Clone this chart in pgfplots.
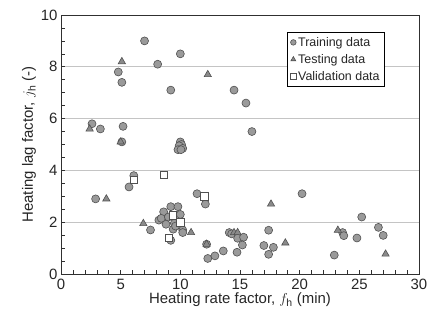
\documentclass[border=0pt]{standalone}
\usepackage{fontspec}
\setmainfont{Liberation Sans}
\usepackage{pgfplots}
\pgfplotsset{compat=1.18}
\definecolor{edge}{HTML}{505050}
\definecolor{cfill}{HTML}{9A9A9A}
\definecolor{tfill}{HTML}{8A8A8A}
\definecolor{gridc}{HTML}{C4C4C4}
\definecolor{axc}{HTML}{303030}
\begin{document}
\begin{tikzpicture}
\useasboundingbox (-61bp,-55bp) rectangle (368bp,274bp);
\begin{axis}[
  scale only axis, width=358bp, height=259bp,
  xmin=0, xmax=30, ymin=0, ymax=10,
  xtick={0,5,...,30}, ytick={0,2,...,10},
  minor x tick num=4, minor y tick num=3,
  tick align=inside, xtick pos=bottom, ytick pos=left,
  major tick length=4bp, minor tick length=4bp,
  every tick/.style={axc, line width=0.6pt},
  axis line style={axc, line width=0.9pt},
  ymajorgrids, major grid style={gridc, line width=0.8pt},
  /pgf/number format/assume math mode=true,
  tick label style={font=\fontsize{15}{18}\selectfont, text=black!85},
  label style={font=\fontsize{15}{18}\selectfont, text=black!85},
  xticklabel style={yshift=-2bp},
  xlabel={Heating rate factor, $f_{\mathrm{h}}$ (min)},
  ylabel={Heating lag factor, $j_{\mathrm{h}}$ (-)},
  xlabel style={yshift=4bp},
  ylabel style={yshift=-2bp},
  legend style={at={(0.632,0.935)}, anchor=north west, draw=black, line width=0.6pt,
    font=\fontsize{12.5}{15}\selectfont, row sep=2.5bp, inner xsep=3bp, inner ysep=3bp,
    text=black!85},
  legend cell align=left,
  legend image code/.code={\draw[mark repeat=2,mark phase=2,#1,mark size=2.8bp] plot coordinates {(0cm,0cm) (0.12cm,0cm) (0.24cm,0cm)};},
]
\addplot[only marks, mark=*, mark size=4bp, mark options={fill=cfill, draw=edge, line width=0.6pt}] coordinates {
(7.0,9.0) (10.0,8.5) (8.1,8.1) (4.8,7.8) (5.1,7.4) (9.2,7.1) (14.5,7.1) (15.5,6.6)
(2.6,5.8) (3.3,5.6) (5.2,5.7) (5.1,5.1) (16.0,5.5)
(10.0,5.1) (10.1,5.0) (9.9,4.95) (10.2,4.85) (9.8,4.8) (10.05,4.8)
(2.9,2.9) (5.7,3.36) (6.1,3.8) (7.5,1.7)
(9.2,2.6) (9.8,2.6) (8.6,2.4) (10.0,2.3) (8.2,2.08) (8.4,2.15) (8.8,1.92) (9.5,1.96)
(9.4,1.73) (10.2,1.7) (10.2,1.6) (9.2,1.3) (9.0,2.2) (9.6,1.85)
(11.4,3.1) (12.1,2.7) (12.2,1.15) (12.3,0.6) (12.9,0.7) (13.6,0.89) (14.75,0.84)
(14.1,1.6) (14.3,1.55) (14.8,1.38) (15.3,1.42) (15.2,1.12)
(17.4,1.69) (17.0,1.1) (17.8,1.03) (17.4,0.76) (20.2,3.1)
(25.2,2.2) (23.6,1.6) (23.7,1.48) (24.8,1.39) (26.6,1.8) (27.0,1.49) (22.9,0.73)
};
\addlegendentry{Training data}
\addplot[only marks, mark=triangle*, mark size=4.2bp, mark options={fill=tfill, draw=edge, line width=0.6pt}] coordinates {
(5.1,8.2) (12.3,7.7) (2.4,5.6) (5.0,5.1) (3.8,2.9) (6.9,1.95) (10.9,1.6) (12.2,1.15)
(14.5,1.6) (14.8,1.6) (17.6,2.7) (18.8,1.2) (23.2,1.69) (27.2,0.77)
};
\addlegendentry{Testing data}
\addplot[only marks, mark=square*, mark size=3.6bp, mark options={fill=white, draw=edge, line width=0.6pt}] coordinates {
(6.1,3.65) (8.6,3.83) (9.35,2.27) (10.0,2.0) (9.0,1.4) (12.0,3.0)
};
\addlegendentry{Validation data}
\end{axis}
\end{tikzpicture}
\end{document}
